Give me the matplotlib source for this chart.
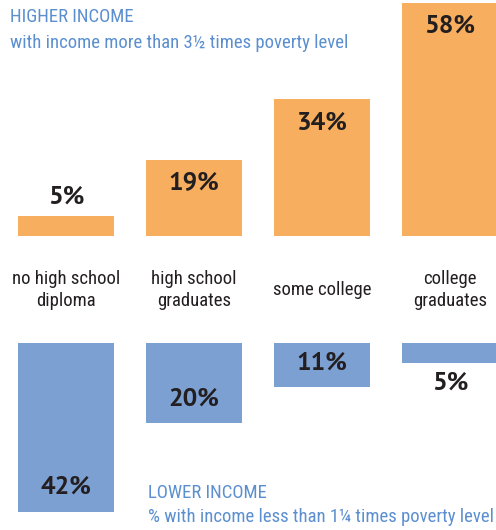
import matplotlib
matplotlib.use("Agg")
import matplotlib.pyplot as plt

# datos
categorias = ["no high school\ndiploma", "high school\ngraduates", "some college", "college\ngraduates"]
ingreso_alto = [5, 19, 34, 58]   # % con ingreso > 3.5x nivel de pobreza
ingreso_bajo = [42, 20, 11, 5]   # % con ingreso < 1.25x nivel de pobreza

naranja = "#F7AE5F"
azul = "#7DA0D3"
azul_txt = "#5B8FD0"
oscuro = "#231F20"
fuente = ["Roboto Condensed", "DejaVu Sans"]
fuente_num = ["PT Sans", "DejaVu Sans"]

plt.rcParams["font.family"] = fuente

fig = plt.figure(figsize=(4.96, 5.30), dpi=100)
ax = fig.add_axes([0, 0, 1, 1])
ax.set_xlim(-0.516, 3.36)
ax.set_ylim(-73.1, 58.7)
ax.axis("off")

x = list(range(len(categorias)))
ancho = 0.75
base_baja = -26.6  # donde empiezan las barras azules

ax.bar(x, ingreso_alto, width=ancho, color=naranja)
ax.bar(x, [-v for v in ingreso_bajo], bottom=base_baja, width=ancho, color=azul)

estilo_num = dict(ha="center", va="center", fontsize=18.5, fontweight="bold",
                  color=oscuro, family=fuente_num)

for xi, v in zip(x, ingreso_alto):
    if v > 10:
        ax.text(xi, v - 5.8, f"{v}%", **estilo_num)
    else:
        ax.text(xi, v + 4.8, f"{v}%", **estilo_num)

for xi, v in zip(x, ingreso_bajo):
    fondo = base_baja - v
    if v > 8:
        ax.text(xi, fondo + 6.1, f"{v}%", **estilo_num)
    else:
        ax.text(xi, fondo - 5.0, f"{v}%", **estilo_num)

for xi, c in zip(x, categorias):
    ax.text(xi, -13.5, c, ha="center", va="center", fontsize=13.5,
            color=oscuro, linespacing=1.3)

ax.text(-0.438, 51.2, "HIGHER INCOME\nwith income more than 3½ times poverty level",
        ha="left", va="center", fontsize=13.5, color=azul_txt, linespacing=1.55)
ax.text(0.64, -66.9, "LOWER INCOME\n% with income less than 1¼ times poverty level",
        ha="left", va="center", fontsize=13.5, color=azul_txt, linespacing=1.45)

fig.savefig("out.png", dpi=100)
